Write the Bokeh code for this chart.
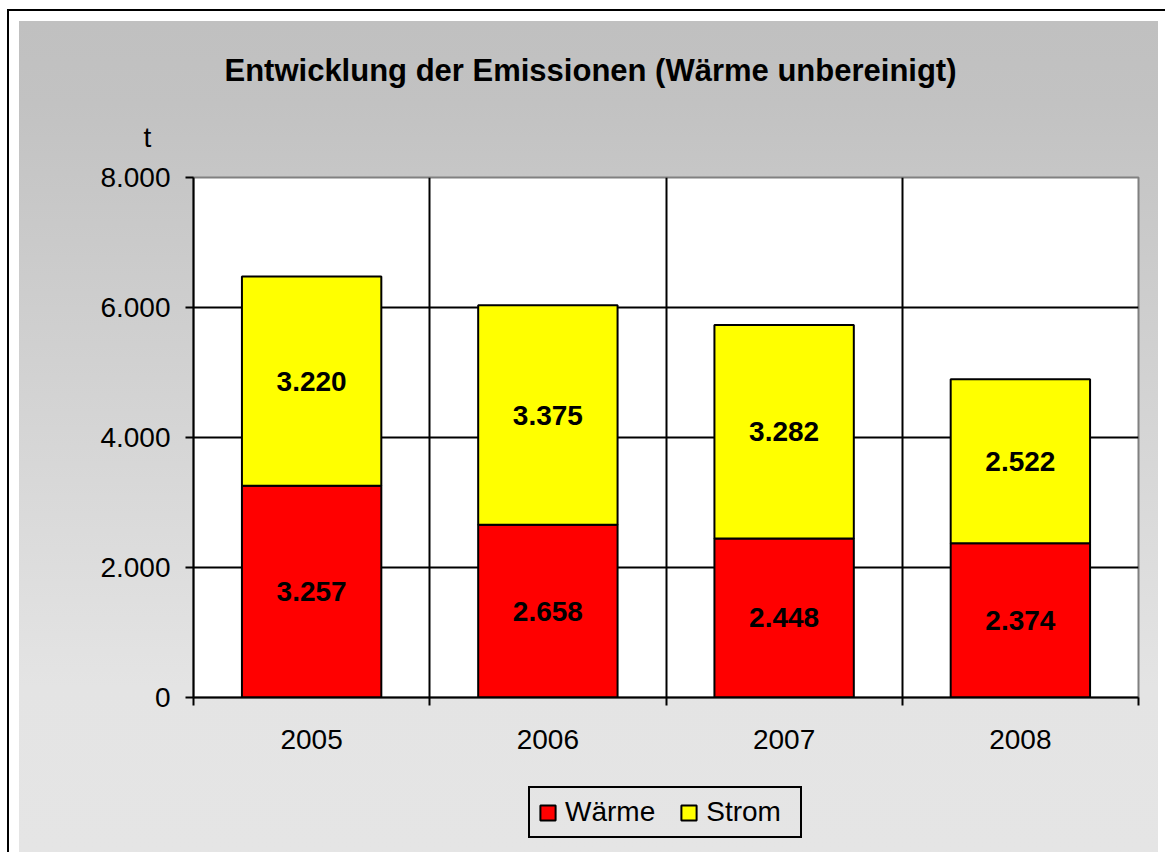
from bokeh.plotting import figure
from bokeh.layouts import column
from bokeh.models import (ColumnDataSource, Range1d, FixedTicker, Label, LabelSet,
                          Legend, LegendItem, Title)
from bokeh.core.properties import value
from bokeh.embed import file_html
from bokeh.resources import INLINE

# ---- data ----
years = ["2005", "2006", "2007", "2008"]
waerme = [3257, 2658, 2448, 2374]
strom = [3220, 3375, 3282, 2522]
series_names = ["Wärme", "Strom"]
series_colors = ["#ff0000", "#ffff00"]
y_ticks = [0, 2000, 4000, 6000, 8000]
y_tick_labels = ["0", "2.000", "4.000", "6.000", "8.000"]
title_text = "Entwicklung der Emissionen (Wärme unbereinigt)"
unit_text = "t"


def de_fmt(v):
    return f"{v:,}".replace(",", ".")


xc = [i + 0.5 for i in range(len(years))]
src = ColumnDataSource(dict(
    x=xc,
    w=waerme,
    s=strom,
    w_mid=[w / 2 for w in waerme],
    s_mid=[w + s / 2 for w, s in zip(waerme, strom)],
    w_lab=[de_fmt(v) for v in waerme],
    s_lab=[de_fmt(v) for v in strom],
))

FONT = "Liberation Sans"
W = 1165
TOP_H = 95
MAIN_H = 675
LEG_H = 82
FRAME_LEFT = 193  # plot frames in the column share this left edge


def deco_figure(h):
    f = figure(width=W, height=h, output_backend="svg", toolbar_location=None,
               x_range=Range1d(0, W), y_range=Range1d(0, h),
               x_axis_type=None, y_axis_type=None,
               min_border_left=0, min_border_right=0, min_border_top=0,
               min_border_bottom=0)
    f.grid.visible = False
    f.outline_line_color = None
    f.background_fill_color = None
    f.border_fill_color = None
    return f


# ---- top: chart title ----
top = deco_figure(TOP_H)
top.add_layout(Label(x=590 - FRAME_LEFT, y=TOP_H - 70, x_units="screen", y_units="screen",
                     text=title_text, text_align="center", text_baseline="middle",
                     text_font=FONT, text_font_size="31px", text_font_style="bold",
                     text_color="black"))

# ---- main chart ----
p = figure(width=W, height=MAIN_H, output_backend="svg", toolbar_location=None,
           x_range=Range1d(0, len(years)), y_range=Range1d(0, 8000),
           min_border_left=FRAME_LEFT, min_border_right=27, min_border_top=0,
           min_border_bottom=73)
p.title.visible = False
p.add_layout(Title(text=unit_text, align="left", offset=143 - FRAME_LEFT,
                   vertical_align="bottom", standoff=49, text_font=FONT,
                   text_font_size="28px", text_font_style="normal",
                   text_color="black"), "above")
p.border_fill_color = None
p.background_fill_color = "white"
p.outline_line_color = "#808080"
p.outline_line_width = 2

p.vbar_stack(["w", "s"], x="x", width=0.59, source=src,
             fill_color=series_colors, line_color="black", line_width=2)

for ycol, tcol in (("w_mid", "w_lab"), ("s_mid", "s_lab")):
    p.add_layout(LabelSet(x="x", y=ycol, text=tcol, source=src,
                          text_align="center", text_baseline="middle",
                          text_font=value(FONT), text_font_size=value("28px"),
                          text_font_style="bold", text_color="black"))

ya = p.yaxis[0]
ya.ticker = FixedTicker(ticks=y_ticks, minor_ticks=[])
ya.major_label_overrides = {t: l for t, l in zip(y_ticks, y_tick_labels)}
ya.major_label_text_font = FONT
ya.major_label_text_font_size = "28px"
ya.major_label_text_color = "black"
ya.axis_line_color = "black"
ya.axis_line_width = 2
ya.major_tick_line_color = "black"
ya.major_tick_line_width = 2
ya.major_tick_out = 8
ya.major_tick_in = 0
ya.major_label_standoff = 15

xa = p.xaxis[0]
xa.ticker = FixedTicker(ticks=xc, minor_ticks=list(range(len(years) + 1)))
xa.major_label_overrides = {x: y for x, y in zip(xc, years)}
xa.major_label_text_font = FONT
xa.major_label_text_font_size = "28px"
xa.major_label_text_color = "black"
xa.axis_line_color = "black"
xa.axis_line_width = 2
xa.major_tick_line_color = None
xa.major_tick_out = 8
xa.major_tick_in = 0
xa.minor_tick_line_color = "black"
xa.minor_tick_line_width = 2
xa.minor_tick_out = 8
xa.minor_tick_in = 0
xa.major_label_standoff = 24

p.xgrid.ticker = FixedTicker(ticks=list(range(1, len(years))), minor_ticks=[])
p.xgrid.grid_line_color = "black"
p.xgrid.grid_line_width = 2
p.ygrid.ticker = FixedTicker(ticks=y_ticks[1:-1], minor_ticks=[])
p.ygrid.grid_line_color = "black"
p.ygrid.grid_line_width = 2

# ---- legend strip (hidden legend proxies carry the series styles) ----
leg = deco_figure(LEG_H)
lr = [leg.vbar(x=[0], top=[0], width=1, fill_color=c, line_color="black", line_width=2,
               visible=False)
      for c in series_colors]
legend = Legend(items=[LegendItem(label=n, renderers=[r]) for n, r in zip(series_names, lr)],
                orientation="horizontal", location=(528 - FRAME_LEFT, LEG_H - 68),
                glyph_width=19, glyph_height=19, label_standoff=8, spacing=24,
                padding=8, margin=0, label_width=86,
                inactive_fill_alpha=0,
                label_text_font=FONT, label_text_font_size="28px", label_text_color="black",
                border_line_color="black", border_line_width=2, border_line_alpha=1,
                background_fill_alpha=0)
leg.add_layout(legend, "center")

layout = column(top, p, leg, spacing=0)
layout.styles = {
    "background": (
        "linear-gradient(to bottom, #c0c0c0 0%, #c2c2c2 10%, #e4e4e4 80%, #e5e5e5 100%) "
        "19px 21px / 1139px 831px no-repeat, "
        "linear-gradient(#000, #000) 7px 9px / 1158px 2px no-repeat, "
        "linear-gradient(#000, #000) 7px 9px / 2px 843px no-repeat, #ffffff"
    )
}

open("out.html", "w").write(file_html(layout, INLINE))
